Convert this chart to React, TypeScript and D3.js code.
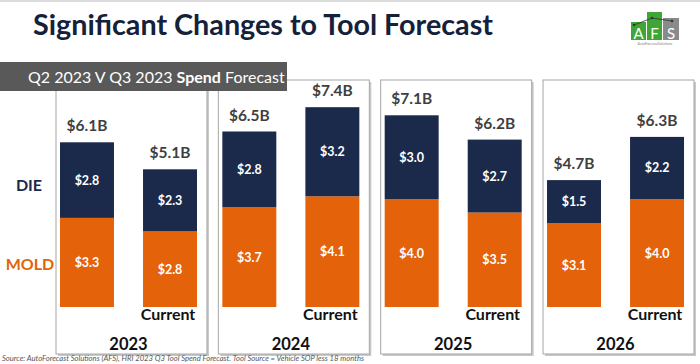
import React from "react";
import * as d3 from "d3";

const years = ["2023", "2024", "2025", "2026"];
const series = ["prev", "current"];
// Q2 2023 forecast (left bar) and Q3 2023 "Current" forecast (right bar), $B
const prevMold = [3.3, 3.7, 4.0, 3.1];
const prevDie = [2.8, 2.8, 3.0, 1.5];
const prevTotal = [6.1, 6.5, 7.1, 4.7];
const currMold = [2.8, 4.1, 3.5, 4.0];
const currDie = [2.3, 3.2, 2.7, 2.2];
const currTotal = [5.1, 7.4, 6.2, 6.3];

const W = 700;
const H = 364;
const NAVY = "#1b2a4a";
const ORANGE = "#e4620a";
const FONT = "Lato, 'Open Sans', sans-serif";

export default function App() {
  const panelX = d3.scaleBand<string>().domain(years).range([56, 694]).paddingInner(0.07).paddingOuter(0);
  const pw = panelX.bandwidth();
  const y = d3.scaleLinear().domain([0, 8]).range([307, 91]);
  const inner = d3.scaleBand<string>().domain(series).range([4, 141]).paddingInner(0.35).paddingOuter(0);
  const bw = inner.bandwidth();
  const panelTop = 80;
  const panelBottom = 354;

  const fmt = (v: number) => "$" + d3.format(".1f")(v);
  const fmtB = (v: number) => "$" + d3.format(".1f")(v) + "B";

  return (
    <svg width={W} height={H} style={{ position: "absolute", left: 0, top: 0, background: "#fff" }} fontFamily={FONT}>
      <rect x={0} y={0} width={W} height={H} fill="#ffffff" />
      <line x1={0} x2={W} y1={1} y2={1} stroke="#dcdcdc" strokeWidth={2} />

      {/* Title */}
      <text x={33} y={35} fontSize={28.5} fontWeight={700} fill="#14213a" textLength={460} lengthAdjust="spacingAndGlyphs">
        Significant Changes to Tool Forecast
      </text>

      {/* Logo */}
      <g>
        <rect x={631} y={22} width={15} height={18} fill="#3fa535" />
        <rect x={647} y={12} width={15} height={28} fill="#3fa535" />
        <rect x={663} y={18} width={16} height={22} fill="#8a8a8a" />
        <polyline points="634,25 652,18 672,21" fill="none" stroke="#333" strokeWidth={0.8} />
        <circle cx={634} cy={25} r={1.3} fill="#333" />
        <circle cx={652} cy={18} r={1.3} fill="#333" />
        <circle cx={672} cy={21} r={1.3} fill="#333" />
        <text x={638.5} y={38.5} fontSize={15} fill="#fff" textAnchor="middle">A</text>
        <text x={654.5} y={38.5} fontSize={15} fill="#fff" textAnchor="middle">F</text>
        <text x={671} y={38.5} fontSize={15} fill="#fff" textAnchor="middle">S</text>
        <text x={655} y={45} fontSize={3.5} fill="#888" textAnchor="middle">AutoForecastSolutions</text>
      </g>

      {/* Panels */}
      {years.map((yr, i) => {
        const px = panelX(yr)!;
        const bars = [
          { key: "prev", mold: prevMold[i], die: prevDie[i], total: prevTotal[i] },
          { key: "current", mold: currMold[i], die: currDie[i], total: currTotal[i] },
        ];
        return (
          <g key={yr}>
            <rect x={px + 2} y={panelTop + 2} width={pw} height={panelBottom - panelTop} fill="#c9c9c9" />
            <rect x={px} y={panelTop} width={pw} height={panelBottom - panelTop} fill="#fff" stroke="#a6a6a6" strokeWidth={1} />
            {bars.map((b) => {
              const bx = px + inner(b.key)!;
              const cx = bx + bw / 2;
              return (
                <g key={b.key}>
                  <rect x={bx} y={y(b.mold)} width={bw} height={y(0) - y(b.mold)} fill={ORANGE} />
                  <rect x={bx} y={y(b.total)} width={bw} height={y(b.mold) - y(b.total)} fill={NAVY} />
                  <text x={cx} y={(y(0) + y(b.mold)) / 2 + 4.5} fontSize={12.5} fontWeight={700} fill="#fff" textAnchor="middle">
                    {fmt(b.mold)}
                  </text>
                  <text x={cx} y={(y(b.mold) + y(b.total)) / 2 + 4.5} fontSize={12.5} fontWeight={700} fill="#fff" textAnchor="middle">
                    {fmt(b.die)}
                  </text>
                  <text x={cx} y={y(b.total) - 11} fontSize={15.5} fontWeight={700} fill="#3f3f3f" textAnchor="middle">
                    {fmtB(b.total)}
                  </text>
                  {b.key === "current" && (
                    <text x={cx - 2} y={320} fontSize={16} fontWeight={700} fill="#111" textAnchor="middle">
                      Current
                    </text>
                  )}
                </g>
              );
            })}
            <text x={px + pw / 2 - 3} y={350} fontSize={16.5} fontWeight={700} fill="#111" textAnchor="middle">
              {yr}
            </text>
          </g>
        );
      })}

      {/* Row labels */}
      <text x={29} y={(y(prevMold[0]) + y(prevTotal[0])) / 2 + 11} fontSize={16} fontWeight={700} fill={NAVY} textAnchor="middle">
        DIE
      </text>
      <text x={30} y={(y(0) + y(prevMold[0])) / 2 + 8} fontSize={16} fontWeight={700} fill={ORANGE} textAnchor="middle">
        MOLD
      </text>

      {/* Banner */}
      <rect x={0} y={62} width={287} height={29} fill="#595959" />
      <text x={28} y={83} fontSize={16} fill="#fff">
        Q2 2023 V Q3 2023 <tspan fontWeight={700}>Spend</tspan> Forecast
      </text>

      {/* Source */}
      <text x={2} y={361} fontSize={7.6} fontStyle="italic" fill="#555" textLength={362} lengthAdjust="spacingAndGlyphs">
        Source: AutoForecast Solutions (AFS), HRI 2023 Q3 Tool Spend Forecast. Tool Source = Vehicle SOP less 18 months
      </text>
    </svg>
  );
}
